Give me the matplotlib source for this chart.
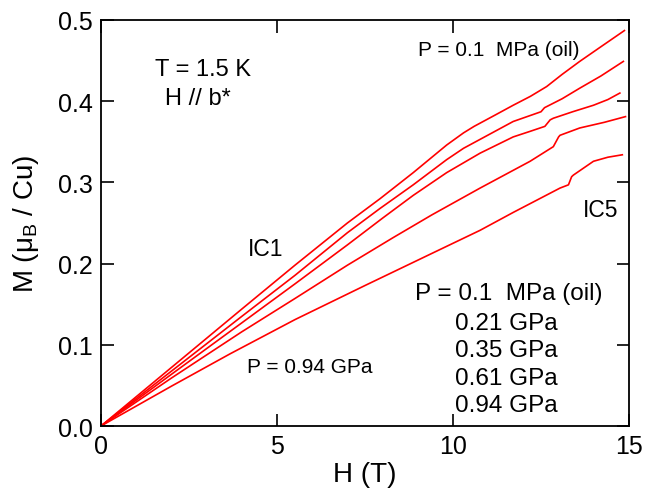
import numpy as np
import matplotlib
matplotlib.use("Agg")
import matplotlib.pyplot as plt

plt.rcParams['font.family'] = ['Liberation Sans', 'DejaVu Sans']
plt.rcParams['mathtext.fontset'] = 'custom'
plt.rcParams['mathtext.rm'] = 'Liberation Sans'

# M(H) curves, H in T, M in muB/Cu
h_01mpa = [0, 2.0, 4.0, 5.51, 7.0, 7.93, 8.87, 9.82, 10.3, 10.6, 10.9, 11.2, 11.71,
           12.2, 12.66, 13.1, 13.6, 14.2, 14.87]
m_01mpa = [0, 0.072, 0.144, 0.198, 0.250, 0.280, 0.312, 0.346, 0.361, 0.369, 0.376,
           0.383, 0.395, 0.406, 0.418, 0.433, 0.449, 0.467, 0.487]

h_021gpa = [0, 2.0, 4.0, 5.51, 7.0, 7.93, 8.87, 9.82, 10.3, 10.77, 11.71, 12.5, 12.6,
            13.1, 13.6, 14.2, 14.84]
m_021gpa = [0, 0.0675, 0.135, 0.1855, 0.238, 0.268, 0.297, 0.328, 0.342, 0.353, 0.375,
            0.387, 0.392, 0.403, 0.416, 0.431, 0.449]

h_035gpa = [0, 2.0, 4.0, 5.51, 7.0, 8.0, 8.87, 9.82, 10.77, 11.71, 12.2, 12.61, 12.76,
            12.85, 13.4, 13.99, 14.4, 14.74]
m_035gpa = [0, 0.0636, 0.127, 0.175, 0.223, 0.256, 0.284, 0.312, 0.336, 0.356, 0.363,
            0.369, 0.377, 0.379, 0.387, 0.395, 0.402, 0.410]

h_061gpa = [0, 2.0, 4.0, 5.51, 7.0, 8.3, 9.4, 10.77, 12.19, 12.85, 13.0, 13.04,
            13.6, 14.3, 14.9]
m_061gpa = [0, 0.059, 0.116, 0.157, 0.198, 0.232, 0.260, 0.293, 0.326, 0.344, 0.356,
            0.358, 0.367, 0.374, 0.381]

h_094gpa = [0, 2.0, 3.66, 5.51, 7.5, 9.35, 10.77, 11.71, 13.04, 13.28, 13.37, 13.42,
            13.99, 14.4, 14.81]
m_094gpa = [0, 0.049, 0.0887, 0.131, 0.173, 0.2115, 0.241, 0.263, 0.293, 0.297, 0.307,
            0.309, 0.326, 0.331, 0.334]

curves = [(h_01mpa, m_01mpa), (h_021gpa, m_021gpa), (h_035gpa, m_035gpa),
          (h_061gpa, m_061gpa), (h_094gpa, m_094gpa)]

pressure_labels = ["P = 0.1  MPa (oil)", "0.21 GPa", "0.35 GPa", "0.61 GPa", "0.94 GPa"]

x_ticks = [0, 5, 10, 15]
y_ticks = [0.0, 0.1, 0.2, 0.3, 0.4, 0.5]

fig = plt.figure(figsize=(6.46, 5.02), dpi=100)
ax = fig.add_axes([0.1563, 0.1494, 0.8174, 0.8088])

for h, m in curves:
    ax.plot(h, m, color='#ff0000', lw=1.2)

ax.set_xlim(0, 15)
ax.set_ylim(0, 0.5)
ax.set_xticks(x_ticks)
ax.set_yticks(y_ticks)
ax.set_xticklabels([str(t) for t in x_ticks])
ax.set_yticklabels(["%.1f" % t for t in y_ticks])
ax.tick_params(direction='in', length=9, width=1.2, top=True, right=True,
               labelsize=18, pad=6)
for sp in ax.spines.values():
    sp.set_linewidth(1.3)

ax.set_xlabel("H (T)", fontsize=20, labelpad=2)
ax.set_ylabel("M (μ$_\\mathrm{B}$ / Cu)", fontsize=20, labelpad=12)

# annotations
ax.text(2.9, 0.4325, "T = 1.5 K", fontsize=17, ha='center', va='baseline')
ax.text(2.75, 0.396, "H // b*", fontsize=17, ha='center', va='baseline')
ax.text(9.0, 0.457, "P = 0.1  MPa (oil)", fontsize=15, ha='left', va='baseline')
ax.text(4.18, 0.211, "IC1", fontsize=16.5, ha='left', va='baseline')
ax.text(13.69, 0.258, "IC5", fontsize=16.5, ha='left', va='baseline')
ax.text(4.14, 0.0663, "P = 0.94 GPa", fontsize=15, ha='left', va='baseline')

list_x = [8.92, 10.06, 10.06, 10.06, 10.06]
list_y = [0.157, 0.120, 0.0858, 0.0519, 0.0185]
for lab, lx, ly in zip(pressure_labels, list_x, list_y):
    ax.text(lx, ly, lab, fontsize=17.5, ha='left', va='baseline')

fig.savefig("out.png", dpi=100)
